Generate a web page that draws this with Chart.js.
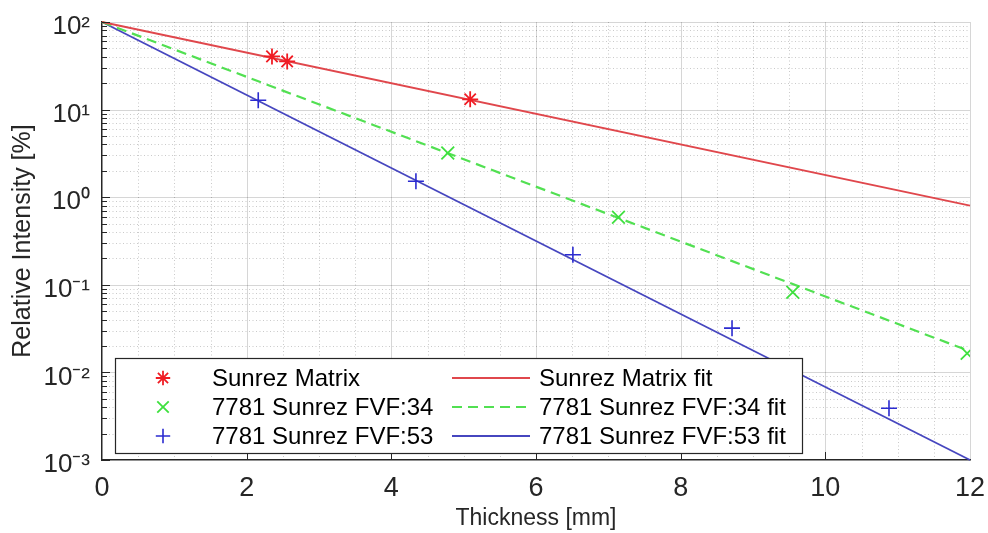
<!DOCTYPE html>
<html lang="en">
<head>
<meta charset="UTF-8">
<title>Relative Intensity vs Thickness</title>
<script src="https://cdn.jsdelivr.net/npm/chart.js"></script>
<style>
  html, body { margin: 0; padding: 0; background: #ffffff; }
  #grafico { display: block; }
</style>
</head>
<body>
<canvas id="grafico" width="988" height="533"></canvas>

<script>
    // measured points
    const matrixThickness = [2.35, 2.56, 5.09];
    const matrixIntensity = [40.5, 35.5, 13.1];

    const fvf34Thickness = [4.78, 7.14, 9.55, 11.96];
    const fvf34Intensity = [3.2, 0.59, 0.082, 0.0165];

    const fvf53Thickness = [2.16, 4.34, 6.51, 8.71, 10.88];
    const fvf53Intensity = [12.8, 1.52, 0.22, 0.032, 0.0039];

    // exponential fits (straight on the log axis)
    const fitThickness = [0, 12];
    const matrixFit = [100, 0.80];
    const fvf34Fit = [100, 0.0174];
    const fvf53Fit = [100, 0.001];

    const xMin = 0, xMax = 12, xStep = 2, xMinorStep = 0.5;
    const yDecades = [0.001, 0.01, 0.1, 1, 10, 100];
    const yTickLabels = ["10\u207B\u00B3", "10\u207B\u00B2", "10\u207B\u00B9", "10\u2070", "10\u00B9", "10\u00B2"];

    const legendLabels = [
        "Sunrez Matrix", "7781 Sunrez FVF:34", "7781 Sunrez FVF:53",
        "Sunrez Matrix fit", "7781 Sunrez FVF:34 fit", "7781 Sunrez FVF:53 fit"
    ];

    const RED = "#f01c24", RED_LINE = "#e0474c";
    const GREEN = "#3ee03e", GREEN_LINE = "#52e052";
    const BLUE = "#2b2bd0", BLUE_LINE = "#4646bf";
    const FONT = "'Liberation Sans', Arial, sans-serif";

    function pares(xs, ys) {
        return xs.map(function (x, i) { return { x: x, y: ys[i] }; });
    }

    // grade estilo matlab: linhas maiores solidas, menores pontilhadas
    const gradePlugin = {
        id: "grade",
        beforeDraw(chart) {
            const ctx = chart.ctx;
            const a = chart.chartArea;
            const sx = chart.scales.x, sy = chart.scales.y;
            ctx.save();
            ctx.fillStyle = "#ffffff";
            ctx.fillRect(0, 0, chart.width, chart.height);

            // menores
            ctx.strokeStyle = "rgba(90,90,90,0.32)";
            ctx.lineWidth = 1;
            ctx.setLineDash([1, 2.5]);
            for (let v = xMin + xMinorStep; v < xMax; v += xMinorStep) {
                if (Math.abs(v / xStep - Math.round(v / xStep)) < 1e-6) continue;
                const px = Math.round(sx.getPixelForValue(v)) + 0.5;
                ctx.beginPath(); ctx.moveTo(px, a.top); ctx.lineTo(px, a.bottom); ctx.stroke();
            }
            for (let d = 0; d < yDecades.length - 1; d++) {
                for (let k = 2; k <= 9; k++) {
                    const py = Math.round(sy.getPixelForValue(yDecades[d] * k)) + 0.5;
                    ctx.beginPath(); ctx.moveTo(a.left, py); ctx.lineTo(a.right, py); ctx.stroke();
                }
            }

            // maiores
            ctx.setLineDash([]);
            ctx.strokeStyle = "rgba(0,0,0,0.16)";
            for (let v = xMin + xStep; v <= xMax; v += xStep) {
                const px = Math.round(sx.getPixelForValue(v)) + 0.5;
                ctx.beginPath(); ctx.moveTo(px, a.top); ctx.lineTo(px, a.bottom); ctx.stroke();
            }
            for (let d = 1; d < yDecades.length; d++) {
                const py = Math.round(sy.getPixelForValue(yDecades[d])) + 0.5;
                ctx.beginPath(); ctx.moveTo(a.left, py); ctx.lineTo(a.right, py); ctx.stroke();
            }
            ctx.restore();
        },
        afterDatasetsDraw(chart) {
            // ticks para dentro
            const ctx = chart.ctx;
            const a = chart.chartArea;
            const sx = chart.scales.x, sy = chart.scales.y;
            ctx.save();
            ctx.strokeStyle = "#262626";
            ctx.lineWidth = 1;
            for (let v = xMin + xStep; v < xMax; v += xStep) {
                const px = Math.round(sx.getPixelForValue(v)) + 0.5;
                ctx.beginPath(); ctx.moveTo(px, a.bottom); ctx.lineTo(px, a.bottom - 8); ctx.stroke();
            }
            for (let d = 0; d < yDecades.length; d++) {
                const py = Math.round(sy.getPixelForValue(yDecades[d])) + 0.5;
                ctx.beginPath(); ctx.moveTo(a.left, py); ctx.lineTo(a.left + 8, py); ctx.stroke();
                if (d === yDecades.length - 1) continue;
                for (let k = 2; k <= 9; k++) {
                    const pm = Math.round(sy.getPixelForValue(yDecades[d] * k)) + 0.5;
                    ctx.beginPath(); ctx.moveTo(a.left, pm); ctx.lineTo(a.left + 5, pm); ctx.stroke();
                }
            }
            ctx.restore();
        },
        afterDraw(chart) {
            // legenda dentro do grafico, 2 colunas
            const ctx = chart.ctx;
            const a = chart.chartArea;
            const bx = a.left + 13, by = a.top + 336, bw = 687, bh = 95;
            const rows = [by + 20, by + 49, by + 78];
            const ds = chart.data.datasets;
            ctx.save();
            ctx.fillStyle = "#ffffff";
            ctx.fillRect(bx, by, bw, bh);
            ctx.strokeStyle = "#262626";
            ctx.lineWidth = 1.2;
            ctx.strokeRect(bx + 0.5, by + 0.5, bw, bh);

            ctx.font = "24px " + FONT;
            ctx.textBaseline = "middle";
            ctx.textAlign = "left";
            for (let i = 0; i < 3; i++) {
                const d = ds[i];
                ctx.strokeStyle = d.borderColor;
                ctx.lineWidth = d.pointBorderWidth;
                Chart.helpers.drawPoint(ctx, {
                    pointStyle: d.pointStyle, radius: d.pointRadius * 0.9,
                    borderWidth: d.pointBorderWidth, rotation: 0
                }, bx + 48, rows[i]);
                ctx.fillStyle = "#000000";
                ctx.fillText(legendLabels[i], bx + 97, rows[i] + 1);

                const f = ds[i + 3];
                ctx.strokeStyle = f.borderColor;
                ctx.lineWidth = f.borderWidth;
                ctx.setLineDash(f.borderDash || []);
                ctx.beginPath();
                ctx.moveTo(bx + 337, rows[i]);
                ctx.lineTo(bx + 415, rows[i]);
                ctx.stroke();
                ctx.setLineDash([]);
                ctx.fillText(legendLabels[i + 3], bx + 424, rows[i] + 1);
            }
            ctx.restore();
        }
    };

    const dados = {
        datasets: [
            {
                label: legendLabels[0],
                data: pares(matrixThickness, matrixIntensity),
                showLine: false,
                pointStyle: "star",
                pointRadius: 8,
                pointBorderWidth: 1.8,
                borderColor: RED,
                backgroundColor: RED
            },
            {
                label: legendLabels[1],
                data: pares(fvf34Thickness, fvf34Intensity),
                showLine: false,
                pointStyle: "crossRot",
                pointRadius: 9,
                pointBorderWidth: 1.8,
                borderColor: GREEN,
                backgroundColor: GREEN
            },
            {
                label: legendLabels[2],
                data: pares(fvf53Thickness, fvf53Intensity),
                showLine: false,
                pointStyle: "cross",
                pointRadius: 8,
                pointBorderWidth: 1.6,
                borderColor: BLUE,
                backgroundColor: BLUE
            },
            {
                label: legendLabels[3],
                data: pares(fitThickness, matrixFit),
                showLine: true,
                pointRadius: 0,
                borderWidth: 1.8,
                borderColor: RED_LINE,
                clip: false
            },
            {
                label: legendLabels[4],
                data: pares(fitThickness, fvf34Fit),
                showLine: true,
                pointRadius: 0,
                borderWidth: 2.2,
                borderDash: [10, 6],
                borderColor: GREEN_LINE,
                clip: false
            },
            {
                label: legendLabels[5],
                data: pares(fitThickness, fvf53Fit),
                showLine: true,
                pointRadius: 0,
                borderWidth: 1.8,
                borderColor: BLUE_LINE,
                clip: false
            }
        ]
    };

    const config = {
        type: "scatter",
        data: dados,
        plugins: [gradePlugin],
        options: {
            responsive: false,
            animation: false,
            devicePixelRatio: 1,
            layout: { padding: { top: 22, right: 18, left: 0, bottom: 0 } },
            plugins: {
                legend: { display: false },
                tooltip: { enabled: false }
            },
            scales: {
                x: {
                    type: "linear",
                    min: xMin,
                    max: xMax,
                    grid: { display: false, drawTicks: false },
                    border: { display: true, color: "#262626", width: 1.5 },
                    ticks: {
                        stepSize: xStep,
                        padding: 12,
                        color: "#262626",
                        font: { family: FONT, size: 27 },
                        maxRotation: 0
                    },
                    title: {
                        display: true,
                        text: "Thickness [mm]",
                        color: "#262626",
                        font: { family: FONT, size: 23 },
                        padding: { top: 0, bottom: 1 }
                    },
                    afterFit: function (scale) {
                        scale.height = 73;
                        scale.paddingLeft = 0;
                        scale.paddingRight = 0;
                    }
                },
                y: {
                    type: "logarithmic",
                    min: yDecades[0],
                    max: yDecades[yDecades.length - 1],
                    grid: { display: false, drawTicks: false },
                    border: { display: true, color: "#262626", width: 1.5 },
                    ticks: {
                        autoSkip: false,
                        padding: 12,
                        labelOffset: 5,
                        color: "#262626",
                        font: { family: FONT, size: 26 },
                        callback: function (value) {
                            const i = yDecades.findIndex(function (d) { return Math.abs(d - value) / d < 1e-6; });
                            return i >= 0 ? yTickLabels[i] : "";
                        }
                    },
                    afterBuildTicks: function (scale) {
                        scale.ticks = yDecades.map(function (v) { return { value: v }; });
                    },
                    title: {
                        display: true,
                        text: "Relative Intensity [%]",
                        color: "#262626",
                        font: { family: FONT, size: 25 },
                        padding: { top: 8, bottom: 0 }
                    },
                    afterFit: function (scale) {
                        scale.width = 102;
                        scale.paddingTop = 0;
                        scale.paddingBottom = 0;
                    }
                }
            }
        }
    };

    const myChart = new Chart(document.getElementById("grafico"), config);
</script>
</body>
</html>
